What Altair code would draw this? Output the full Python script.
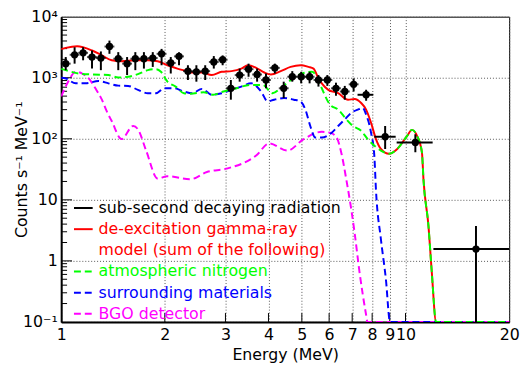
import altair as alt
import pandas as pd

# ---------------- data ----------------
# narrow bins (centre energy, MeV) with counts and vertical error limits
energy = [1.031, 1.094, 1.158, 1.229, 1.304, 1.381, 1.465, 1.554, 1.642, 1.739,
          1.845, 1.957, 2.081, 2.199, 2.334, 2.470, 2.620, 2.775, 2.944, 3.110,
          3.299, 3.501, 3.707, 3.934, 4.174, 4.429, 4.690, 4.977, 5.266, 5.587,
          5.929, 6.281, 6.662, 7.069]
counts = [1701, 2376, 2559, 2182, 2102, 3246, 2048, 1701, 2048, 2048,
          2102, 2465, 1746, 2239, 1283, 1250, 1283, 1812, 1973, 672,
          1106, 1381, 1130, 918, 1450, 672, 1038, 1038, 1038, 918,
          918, 672, 595, 780]
err_lo = [1331, 1701, 1930, 1413, 1331, 2465, 1331, 1106, 1331, 1413,
          1504, 1602, 1173, 1602, 918, 862, 918, 1413, 1602, 437,
          862, 1038, 862, 672, 1173, 464, 862, 809, 809, 716,
          735, 507, 437, 595]
err_hi = [2182, 3162, 3162, 2797, 2696, 4057, 2626, 2182, 2626, 2626,
          2626, 2969, 2182, 2626, 1602, 1602, 1602, 2263, 2323, 918,
          1413, 1701, 1413, 1173, 1701, 862, 1283, 1250, 1250, 1106,
          1106, 830, 735, 974]

# wide bins with explicit energy ranges
wide_energy = [7.685, 8.727, 10.68, 16.02]
wide_e_lo = [7.256, 8.117, 9.425, 12.05]
wide_e_hi = [8.062, 9.363, 11.99, 20.0]
wide_counts = [526, 108, 87, 1.56]
wide_lo = [421, 68, 60, 0.1]
wide_hi = [633, 162, 119, 3.71]

# model curves
red_e = [1.0, 1.031, 1.113, 1.229, 1.313, 1.402, 1.497, 1.635, 1.785, 1.906,
         2.036, 2.175, 2.323, 2.401, 2.564, 2.738, 2.925, 3.124, 3.336, 3.487,
         3.684, 3.890, 4.065, 4.342, 4.637, 4.953, 5.231, 5.406, 5.587, 5.713,
         5.968, 6.375, 6.808, 7.114, 7.434, 7.683, 7.941, 8.207, 8.483, 8.960,
         9.462, 10.11, 10.44, 10.80, 11.16, 11.28, 11.66, 11.92, 12.27, 20.0]
red_v = [2936, 3081, 3282, 2797, 2323, 1930, 1859, 1930, 1930, 1859,
         1602, 1413, 1283, 1218, 1218, 1106, 1250, 1283, 1413, 1602,
         1450, 1218, 1130, 1283, 1504, 1602, 1504, 1413, 974, 809,
         633, 558, 437, 447, 385, 301, 183, 98.9, 68.2, 56.7,
         68.2, 112, 140, 112, 60.1, 21.0, 3.71, 0.657, 0.1, 0.1]

green_e = [1.0, 1.031, 1.126, 1.229, 1.372, 1.465, 1.565, 1.671, 1.785, 1.885,
           1.949, 2.036, 2.150, 2.273, 2.374, 2.593, 2.769, 2.958, 3.228, 3.524,
           3.849, 4.111, 4.391, 4.792, 5.009, 5.349, 5.528, 5.713, 6.035, 6.375,
           6.736, 7.034, 7.434, 7.765, 8.117, 8.483, 8.960, 9.462, 10.11, 10.44,
           10.80, 11.16, 11.28, 11.66, 11.92, 12.27, 20.0]
green_v = [1397, 1331, 1173, 1130, 1106, 1011, 1038, 1147, 1331, 1381,
           1250, 862, 716, 558, 546, 579, 526, 595, 672, 763,
           763, 558, 716, 1038, 1173, 1250, 1038, 672, 363, 301,
           208, 162, 135, 98.9, 77.1, 64.0, 56.7, 68.2, 112, 140,
           112, 60.1, 21.0, 3.71, 0.657, 0.1, 0.1]

blue_e = [1.0, 1.031, 1.102, 1.177, 1.284, 1.372, 1.465, 1.565, 1.671, 1.785,
          1.885, 1.993, 2.128, 2.273, 2.401, 2.564, 2.738, 2.925, 3.124, 3.336,
          3.564, 3.806, 3.978, 4.154, 4.437, 4.739, 4.953, 5.119, 5.290, 5.467,
          5.713, 6.102, 6.375, 6.662, 6.960, 7.270, 7.513, 7.683, 7.941, 8.117,
          8.207, 8.483, 8.767, 9.018, 20.0]
blue_v = [1000, 974, 809, 809, 885, 809, 743, 735, 633, 558,
          558, 672, 672, 595, 558, 657, 526, 558, 633, 716,
          809, 595, 410, 437, 464, 437, 410, 301, 162, 105,
          105, 126, 162, 208, 266, 301, 320, 250, 126, 53.2,
          14.5, 2.26, 0.513, 0.1, 0.1]

magenta_e = [1.0, 1.036, 1.054, 1.102, 1.151, 1.202, 1.257, 1.313, 1.356, 1.402,
             1.497, 1.618, 1.671, 1.765, 1.906, 2.036, 2.374, 2.650, 3.022, 3.684,
             4.020, 4.537, 5.062, 5.713, 6.035, 6.309, 6.519, 6.736, 6.960, 7.114,
             7.352, 7.683, 7.75, 20.0]
magenta_v = [494, 763, 918, 1250, 1173, 974, 672, 437, 283, 195,
             98.9, 162, 143, 64.0, 22.4, 24.4, 21.8, 28.6, 32.4, 53.2,
             84.0, 64.0, 98.9, 130, 126, 105, 56.7, 21.0, 6.90, 2.90,
             0.657, 0.131, 0.1, 0.1]

x_tick_values = [1, 2, 3, 4, 5, 6, 7, 8, 9, 10, 20]
y_tick_values = [0.1, 1, 10, 100, 1000, 10000]
y_major_inner = [1, 10, 100, 1000]
y_minor_inner = [k * 10.0 ** p for p in range(-1, 4) for k in range(2, 10)]
x_inner = [2, 3, 4, 5, 6, 7, 8, 9, 10]

legend_labels = ["sub-second decaying radiation", "de-excitation gamma-ray",
                 "model (sum of the following)", "atmospheric nitrogen",
                 "surrounding materials", "BGO detector"]
legend_colors = ["black", "#ff0000", "#ff0000", "#00ff00", "#0000ff", "#ff00ff"]
legend_symbol = ["solid", "solid", None, "dash", "dash", "dash"]

# ---------------- chart ----------------
W, H = 455, 310
FONT = "DejaVu Sans"
DASH = [7, 4]

xs = alt.Scale(type="log", domain=[1, 20], nice=False)
ys = alt.Scale(type="log", domain=[0.1, 10000], nice=False)

y_label_expr = ("datum.value >= 9999 ? '10\u2074' : datum.value >= 999 ? '10\u00b3' : "
                "datum.value >= 99 ? '10\u00b2' : datum.value >= 9 ? '10' : "
                "datum.value >= 0.9 ? '1' : '10\u207b\u00b9'")

xaxis = alt.Axis(values=x_tick_values, format="~g", title="Energy (MeV)",
                 labelFont=FONT, labelFontSize=16, labelColor="black",
                 titleFont=FONT, titleFontSize=16, titleFontWeight="normal", titleColor="black",
                 ticks=False, labelPadding=5, labelFlush=False, labelOverlap=False,
                 domainColor="black", domainWidth=2,
                 grid=True, gridColor="#555555", gridDash=[1, 2], gridWidth=1,
                 titleX=W / 2, titleY=38, titleAlign="center", titleBaseline="alphabetic")
yaxis = alt.Axis(values=y_tick_values, labelExpr=y_label_expr,
                 title="Counts s\u207b\u00b9 MeV\u207b\u00b9",
                 labelFont=FONT, labelFontSize=16, labelColor="black",
                 titleFont=FONT, titleFontSize=16, titleFontWeight="normal", titleColor="black",
                 ticks=False, labelPadding=4, labelOverlap=False,
                 domainColor="black", domainWidth=2,
                 grid=True, gridColor="#555555", gridDash=[1, 2], gridWidth=1,
                 titleAngle=270, titleX=-35, titleY=H / 2, titleAlign="center",
                 titleBaseline="alphabetic")


def X(field="e"):
    return alt.X(f"{field}:Q", scale=xs, axis=xaxis)


def Y(field="v"):
    return alt.Y(f"{field}:Q", scale=ys, axis=yaxis)


def curve(e, v, color, dash=None):
    kw = dict(color=color, strokeWidth=2, clip=True, interpolate="monotone")
    if dash:
        kw["strokeDash"] = dash
    return alt.Chart(pd.DataFrame({"e": e, "v": v})).mark_line(**kw).encode(x=X(), y=Y())


layers = []

# inner ticks
layers.append(alt.Chart(pd.DataFrame({"v": y_major_inner})).mark_rule(color="black", strokeWidth=1)
              .encode(y=Y(), x=alt.value(0), x2=alt.value(11)))
layers.append(alt.Chart(pd.DataFrame({"v": y_minor_inner})).mark_rule(color="black", strokeWidth=1)
              .encode(y=Y(), x=alt.value(0), x2=alt.value(6)))
layers.append(alt.Chart(pd.DataFrame({"e": x_inner})).mark_rule(color="black", strokeWidth=1)
              .encode(x=X(), y=alt.value(H), y2=alt.value(H - 9)))

# model curves
layers.append(curve(red_e, red_v, "#ff0000"))
layers.append(curve(magenta_e, magenta_v, "#ff00ff", DASH))
layers.append(curve(blue_e, blue_v, "#0000ff", DASH))
layers.append(curve(green_e, green_v, "#00ff00", DASH))

# data points
pts = pd.DataFrame({"e": energy, "v": counts, "lo": err_lo, "hi": err_hi})
layers.append(alt.Chart(pts).mark_rule(color="black", strokeWidth=2)
              .encode(x=X(), y=Y("lo"), y2="hi:Q"))
layers.append(alt.Chart(pts).mark_tick(color="black", orient="horizontal", size=10, thickness=2)
              .encode(x=X(), y=Y()))
layers.append(alt.Chart(pts).mark_point(filled=True, shape="circle", size=55, color="black", opacity=1)
              .encode(x=X(), y=Y()))

wide = pd.DataFrame({"e": wide_energy, "elo": wide_e_lo, "ehi": wide_e_hi,
                     "v": wide_counts, "lo": wide_lo, "hi": wide_hi})
layers.append(alt.Chart(wide).mark_rule(color="black", strokeWidth=2, clip=True)
              .encode(x=X(), y=Y("lo"), y2="hi:Q"))
layers.append(alt.Chart(wide).mark_rule(color="black", strokeWidth=2)
              .encode(x=X("elo"), x2="ehi:Q", y=Y()))
layers.append(alt.Chart(wide).mark_point(filled=True, shape="circle", size=55, color="black", opacity=1)
              .encode(x=X(), y=Y()))

# legend (drawn inside the frame, bottom-left)
row0, step = 194.3, 21.5
for i, (lab, col, sym) in enumerate(zip(legend_labels, legend_colors, legend_symbol)):
    yy = row0 + i * step
    layers.append(alt.Chart(pd.DataFrame({"t": [lab]})).mark_text(
        align="left", baseline="middle", font=FONT, fontSize=16, color=col)
        .encode(x=alt.value(38), y=alt.value(yy), text="t:N"))
    if sym is not None:
        kw = dict(color=col, strokeWidth=2)
        if sym == "dash":
            kw["strokeDash"] = DASH
        layers.append(alt.Chart(pd.DataFrame({"a": [0]})).mark_rule(**kw)
                      .encode(x=alt.value(13), x2=alt.value(32), y=alt.value(yy)))

chart = alt.layer(*layers).properties(
    width=W, height=H,
    autosize=alt.AutoSizeParams(type="none"),
    padding={"left": 54, "top": 6, "right": 11, "bottom": 46},
).configure_view(stroke="black", strokeWidth=1)

chart.save("out.html", embed_options={"renderer": "svg", "actions": False})
